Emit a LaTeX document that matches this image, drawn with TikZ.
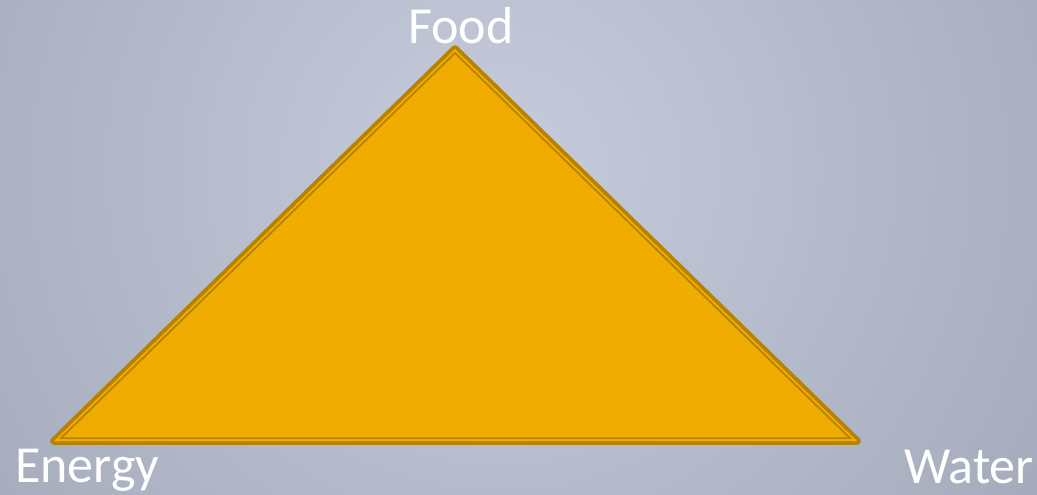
\documentclass[tikz,border=0pt]{standalone}
\usepackage{fontspec}
\setmainfont{Carlito}
\definecolor{bgin}{RGB}{198,204,219}
\definecolor{bgout}{RGB}{124,131,149}
\definecolor{trifill}{RGB}{240,172,0}
\definecolor{tridark}{RGB}{182,130,0}
\pgfdeclareradialshading{bgrad}{\pgfpoint{0bp}{0bp}}{color(0bp)=(bgin); color(50bp)=(bgout)}
\tikzset{
  lbl/.style={text=white, inner sep=0pt, font=\fontsize{52}{54}\selectfont},
}
\begin{document}
\begin{tikzpicture}[x=1pt,y=-1pt]
\useasboundingbox (0,0) rectangle (1037,495);
\begin{scope}
\clip (0,0) rectangle (1037,495);
\fill[bgout] (0,0) rectangle (1037,495);
\shade[shading=bgrad] (500,170) circle (700pt);
\end{scope}
\coordinate (F) at (455,49);
\coordinate (E) at (54,441);
\coordinate (W) at (857,441);
\fill[trifill] (F) -- (E) -- (W) -- cycle;
\draw[tridark, line width=7.5pt, line join=round] (F) -- (E) -- (W) -- cycle;
\begin{scope}
\clip (F) -- (E) -- (W) -- cycle;
\draw[trifill, line width=3.6pt, line join=round] (F) -- (E) -- (W) -- cycle;
\end{scope}
\node[lbl, anchor=base] (food) at (461,44) {Food};
\node[lbl, anchor=base west] (energy) at (15,482) {Energy};
\node[lbl, anchor=base east] (water) at (1034,483) {Water};
\end{tikzpicture}
\end{document}
